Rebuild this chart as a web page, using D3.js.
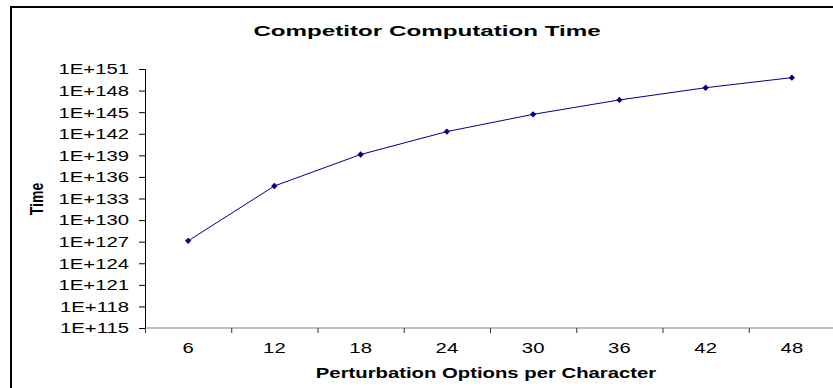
<!DOCTYPE html>
<html>
<head>
<meta charset="utf-8">
<script src="https://cdn.jsdelivr.net/npm/d3@7"></script>
<style>
  html, body { margin: 0; background: #fff; overflow: hidden; }
  svg { display: block; }
  text { font-family: "Liberation Sans", Arial, sans-serif; fill: #000; }
</style>
</head>
<body>
<div id="wrapper"></div>
<script>
// data
let categories = ['6', '12', '18', '24', '30', '36', '42', '48'];
let times = [1.3e127, 5.5e134, 1.3e139, 2e142, 5e144, 5e146, 2.5e148, 6.3e149];
let tickExponents = [115, 118, 121, 124, 127, 130, 133, 136, 139, 142, 145, 148, 151];

let width = 833, height = 388;
let plotLeft = 145, plotRight = 835, plotTop = 69, plotBottom = 328;
// the original picture is stretched sideways, so the text is too
let stretch = 1.45;

let svg = d3.select('#wrapper')
    .append('svg')
    .attr('width', width)
    .attr('height', height);

// outer chart frame (right and bottom edges fall outside the picture)
svg.append('path')
    .attr('d', 'M11,' + height + 'V7H' + width)
    .style('fill', 'none')
    .style('stroke', '#000')
    .style('stroke-width', 2);

let x = d3.scaleBand()
    .domain(categories)
    .range([plotLeft, plotRight])
    .padding(0);

let y = d3.scaleLog()
    .domain([1e115, 1e151])
    .range([plotBottom, plotTop]);

// y axis
let yAxis = svg.append('g')
    .attr('transform', 'translate(' + plotLeft + ',0)')
    .call(d3.axisLeft(y)
        .tickValues(tickExponents.map(function (e) { return Math.pow(10, e) }))
        .tickSize(6)
        .tickFormat(function (d) { return '1E+' + Math.round(Math.log10(d)) }));
yAxis.select('.domain').attr('stroke', '#000');
yAxis.selectAll('.tick line').attr('stroke', '#000');
yAxis.selectAll('.tick text')
    .attr('x', 0)
    .attr('dy', '0.35em')
    .attr('transform', 'translate(-16,0) scale(' + stretch + ',1)')
    .style('font-size', '14px')
    .style('font-family', '"Liberation Sans", Arial, sans-serif');

// x axis: ticks sit between categories
let xg = svg.append('g')
    .attr('transform', 'translate(0,' + plotBottom + ')');
xg.append('line')
    .attr('x1', plotLeft)
    .attr('x2', width)
    .attr('stroke', '#808080');
xg.selectAll('line.tk')
    .data(categories)
    .enter()
    .append('line')
    .attr('class', 'tk')
    .attr('x1', function (d) { return x(d) + 0.5 })
    .attr('x2', function (d) { return x(d) + 0.5 })
    .attr('y1', 0)
    .attr('y2', 5)
    .attr('stroke', '#333');
xg.selectAll('text')
    .data(categories)
    .enter()
    .append('text')
    .attr('text-anchor', 'middle')
    .attr('transform', function (d) {
        return 'translate(' + (x(d) + x.bandwidth() / 2) + ',25) scale(' + stretch + ',1)';
    })
    .style('font-size', '14px')
    .text(function (d) { return d });

// line + markers
let line = d3.line()
    .x(function (d, i) { return x(categories[i]) + x.bandwidth() / 2 })
    .y(function (d) { return y(d) });

svg.append('path')
    .datum(times)
    .attr('d', line)
    .style('fill', 'none')
    .style('stroke', '#000080')
    .style('stroke-width', 1);

svg.selectAll('path.mk')
    .data(times)
    .enter()
    .append('path')
    .attr('class', 'mk')
    .attr('d', d3.symbol().type(d3.symbolSquare).size(20))
    .attr('transform', function (d, i) {
        return 'translate(' + (x(categories[i]) + x.bandwidth() / 2) + ',' + y(d) + ') rotate(45)';
    })
    .style('fill', '#000080');

// titles
svg.append('text')
    .attr('text-anchor', 'middle')
    .attr('transform', 'translate(427,35.5) scale(1.56,1)')
    .style('font-size', '15.5px')
    .style('font-weight', 'bold')
    .text('Competitor Computation Time');

svg.append('text')
    .attr('text-anchor', 'middle')
    .attr('transform', 'translate(486,378) scale(' + stretch + ',1)')
    .style('font-size', '14px')
    .style('font-weight', 'bold')
    .text('Perturbation Options per Character');

svg.append('text')
    .attr('text-anchor', 'middle')
    .attr('transform', 'translate(42.5,199) scale(1.3,1) rotate(-90)')
    .style('font-size', '14px')
    .style('font-weight', 'bold')
    .text('Time');
</script>
</body>
</html>
